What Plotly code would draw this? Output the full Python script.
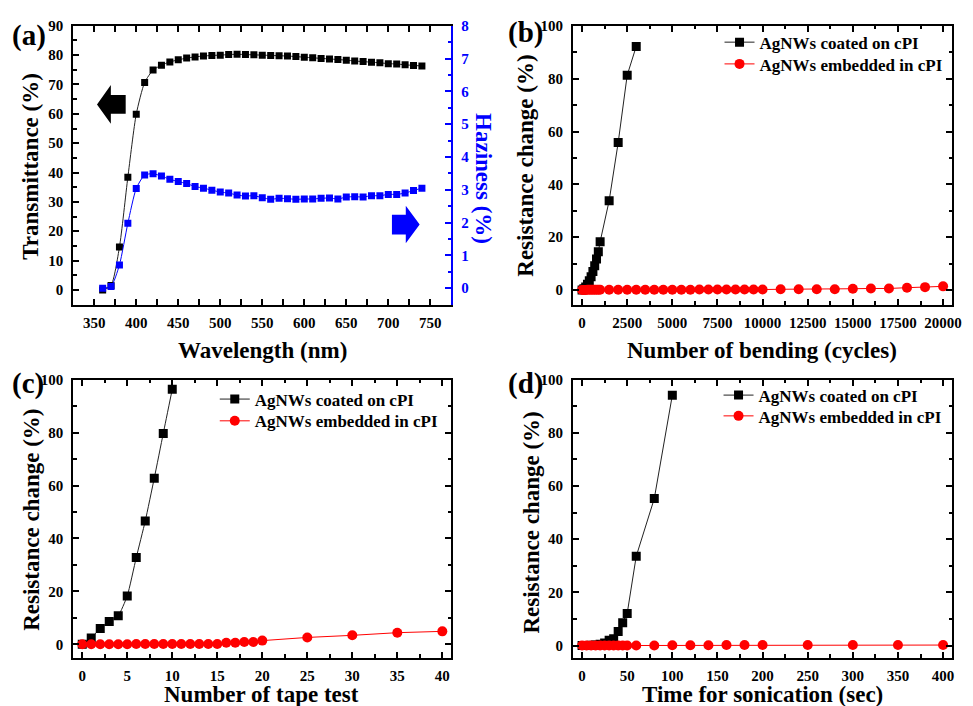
import plotly.graph_objects as go

W, H = 973, 706
SERIF = "Liberation Serif"
BLUE = "#0000FF"
RED = "#FF0000"

# (a) optical properties of the film
wavelength = [360, 370, 380, 390, 400, 410, 420, 430, 440, 450, 460, 470, 480, 490,
              500, 510, 520, 530, 540, 550, 560, 570, 580, 590, 600, 610, 620, 630,
              640, 650, 660, 670, 680, 690, 700, 710, 720, 730, 740]
transmittance = [0.0, 1.5, 14.6, 38.4, 59.9, 70.7, 74.9, 76.6, 77.7, 78.4, 79.0, 79.4,
                 79.7, 79.9, 80.0, 80.2, 80.3, 80.2, 80.1, 80.0, 79.9, 79.8, 79.7, 79.5,
                 79.3, 79.1, 78.9, 78.7, 78.5, 78.3, 78.0, 77.8, 77.6, 77.4, 77.1, 77.0,
                 76.7, 76.5, 76.3]
haziness = [0.0, 0.05, 0.71, 1.98, 3.04, 3.45, 3.49, 3.42, 3.32, 3.25, 3.19, 3.10,
            3.05, 2.99, 2.93, 2.90, 2.84, 2.81, 2.82, 2.76, 2.71, 2.74, 2.73, 2.71,
            2.72, 2.72, 2.74, 2.75, 2.72, 2.78, 2.79, 2.78, 2.82, 2.82, 2.86, 2.86,
            2.90, 2.98, 3.05]

# (b) bending test
bend_coated_x = [0, 100, 200, 300, 400, 500, 600, 700, 800, 900, 1000,
                 1500, 2000, 2500, 3000]
bend_coated_y = [0.0, 0.5, 1.2, 2.2, 3.5, 5.0, 7.0, 9.2, 11.8, 14.5, 18.3,
                 33.8, 55.8, 81.3, 92.2]
bend_embedded_x = [0, 100, 200, 300, 400, 500, 600, 700, 800, 900, 1000,
                   1500, 2000, 2500, 3000, 3500, 4000, 4500, 5000, 5500, 6000,
                   6500, 7000, 7500, 8000, 8500, 9000, 9500, 10000,
                   11000, 12000, 13000, 14000, 15000, 16000, 17000, 18000,
                   19000, 20000]
bend_embedded_y = [0.0, 0.0, 0.0, 0.1, 0.1, 0.1, 0.1, 0.1, 0.1, 0.1, 0.1,
                   0.1, 0.1, 0.1, 0.1, 0.1, 0.1, 0.1, 0.1, 0.1, 0.1,
                   0.2, 0.2, 0.2, 0.2, 0.2, 0.2, 0.2, 0.2,
                   0.3, 0.3, 0.3, 0.3, 0.5, 0.6, 0.6, 0.9, 1.1, 1.4]

# (c) tape test
tape_coated_x = [0, 1, 2, 3, 4, 5, 6, 7, 8, 9, 10]
tape_coated_y = [0.0, 2.4, 6.0, 8.6, 10.8, 18.3, 32.8, 46.6, 62.8, 79.7, 96.4]
tape_embedded_x = [0, 1, 2, 3, 4, 5, 6, 7, 8, 9, 10, 11, 12, 13, 14, 15, 16, 17,
                   18, 19, 20, 25, 30, 35, 40]
tape_embedded_y = [0.0, 0.0, 0.0, 0.0, 0.0, 0.0, 0.1, 0.1, 0.1, 0.1, 0.1, 0.1,
                   0.1, 0.1, 0.1, 0.1, 0.6, 0.6, 0.9, 0.9, 1.4, 2.6, 3.4, 4.4, 4.9]

# (d) sonication test
son_coated_x = [0, 5, 10, 15, 20, 25, 30, 35, 40, 45, 50, 60, 80, 100]
son_coated_y = [0.0, 0.0, 0.1, 0.2, 0.5, 1.0, 2.0, 2.6, 5.3, 8.6, 12.1, 33.6, 55.3, 94.2]
son_embedded_x = [0, 5, 10, 15, 20, 25, 30, 35, 40, 45, 50, 60, 80, 100, 120,
                  140, 160, 180, 200, 250, 300, 350, 400]
son_embedded_y = [0.0, 0.0, 0.0, 0.0, 0.0, 0.0, 0.0, 0.0, 0.0, 0.0, 0.0, 0.0,
                  0.0, 0.1, 0.1, 0.1, 0.2, 0.2, 0.2, 0.2, 0.2, 0.2, 0.2]

legend_labels = ["AgNWs coated on cPI", "AgNWs embedded in cPI"]
panel_labels = ["(a)", "(b)", "(c)", "(d)"]


def fx(px):
    return px / W


def fy(py):
    return 1 - py / H


tick_font = dict(family=SERIF, size=15, color="black", weight="bold")


def frame_axis(rng, dtick, minor_dtick, domain, anchor, mirror="allticks",
               color="black", **kw):
    ax = dict(range=rng, dtick=dtick, domain=domain, anchor=anchor,
              showline=True, linecolor=color, linewidth=2, mirror=mirror,
              ticks="inside", ticklen=6, tickwidth=1.5, tickcolor=color,
              showgrid=False, zeroline=False, tickformat="d",
              tickfont=dict(tick_font, color=color),
              minor=dict(dtick=minor_dtick, ticks="inside", ticklen=3.5,
                         tickwidth=1.5, tickcolor=color, showgrid=False))
    ax.update(kw)
    return ax


fig = go.Figure()

sq_black = dict(symbol="square", color="black")
circ_red = dict(symbol="circle", color=RED)

# (a)
fig.add_trace(go.Scatter(x=wavelength, y=transmittance, mode="lines+markers",
                         line=dict(color="#222222", width=1, shape="spline", smoothing=0.6),
                         marker=dict(sq_black, size=7), showlegend=False,
                         xaxis="x", yaxis="y"))
fig.add_trace(go.Scatter(x=wavelength, y=haziness, mode="lines+markers",
                         line=dict(color=BLUE, width=1, shape="spline", smoothing=0.6),
                         marker=dict(symbol="square", color=BLUE, size=7),
                         showlegend=False, xaxis="x", yaxis="y2"))

# (b), (c), (d): each legend row is its own legend so the rows sit where wanted
panels = [
    ("x2", "y3", ("legend", "legend2"), bend_coated_x, bend_coated_y,
     bend_embedded_x, bend_embedded_y, "linear"),
    ("x3", "y4", ("legend3", "legend4"), tape_coated_x, tape_coated_y,
     tape_embedded_x, tape_embedded_y, "spline"),
    ("x4", "y5", ("legend5", "legend6"), son_coated_x, son_coated_y,
     son_embedded_x, son_embedded_y, "linear"),
]
for xa, ya, (lg1, lg2), cx, cy, ex, ey, shape in panels:
    fig.add_trace(go.Scatter(x=cx, y=cy, mode="lines+markers", name=legend_labels[0],
                             line=dict(color="#222222", width=1, shape=shape, smoothing=0.5),
                             marker=dict(sq_black, size=9), xaxis=xa, yaxis=ya, legend=lg1))
    fig.add_trace(go.Scatter(x=ex, y=ey, mode="lines+markers", name=legend_labels[1],
                             line=dict(color=RED, width=1),
                             marker=dict(circ_red, size=10), xaxis=xa, yaxis=ya, legend=lg2))

top_row = [fy(300), fy(18)]
bot_row = [fy(657), fy(376)]
left_col = [fx(74), fx(456)]
right_col = [fx(579), fx(962)]

legend_style = dict(xanchor="left", yanchor="middle", bgcolor="rgba(0,0,0,0)",
                    font=dict(family=SERIF, size=17, color="black", weight="bold"),
                    tracegroupgap=0, itemwidth=30, borderwidth=0)

fig.update_layout(
    width=W, height=H,
    margin=dict(l=0, r=0, t=0, b=0),
    paper_bgcolor="white", plot_bgcolor="white",
    font=dict(family=SERIF),
    xaxis=frame_axis([325, 775], 50, 25, left_col, "y", ticklabelstandoff=3),
    yaxis=frame_axis([-5, 90], 10, 5, top_row, "x", mirror=False, ticklabelstandoff=5),
    yaxis2=frame_axis([-0.5, 8], 1, 0.5, top_row, "x", mirror=False, color=BLUE,
                      overlaying="y", side="right", ticklabelstandoff=5),
    xaxis2=frame_axis([-500, 20500], 2500, 1250, right_col, "y3", ticklabelstandoff=3),
    yaxis3=frame_axis([-5.5, 100], 20, 10, top_row, "x2", ticklabelstandoff=5),
    xaxis3=frame_axis([-1, 41], 5, 2.5, left_col, "y4", ticklabelstandoff=3),
    yaxis4=frame_axis([-5, 100], 20, 10, bot_row, "x3", ticklabelstandoff=5),
    xaxis4=frame_axis([-10, 410], 50, 25, right_col, "y5", ticklabelstandoff=3),
    yaxis5=frame_axis([-4.5, 100], 20, 10, bot_row, "x4", ticklabelstandoff=5),
    legend=dict(legend_style, x=fx(727), y=fy(35)),
    legend2=dict(legend_style, x=fx(727), y=fy(57)),
    legend3=dict(legend_style, x=fx(217), y=fy(396)),
    legend4=dict(legend_style, x=fx(217), y=fy(418)),
    legend5=dict(legend_style, x=fx(726), y=fy(392)),
    legend6=dict(legend_style, x=fx(726), y=fy(413)),
)

title_font = dict(family=SERIF, size=23, color="black", weight="bold")
annotations = [
    # x-axis titles
    dict(text="Wavelength (nm)", x=fx(265), y=fy(346)),
    dict(text="Number of bending (cycles)", x=fx(770), y=fy(346)),
    dict(text="Number of tape test", x=fx(264), y=fy(694)),
    dict(text="Time for sonication (sec)", x=fx(770), y=fy(694)),
    # y-axis titles
    dict(text="Transmittance (%)", x=fx(31), y=fy(160), textangle=-90),
    dict(text="Resistance change (%)", x=fx(531), y=fy(160), textangle=-90),
    dict(text="Resistance change (%)", x=fx(31), y=fy(518), textangle=-90),
    dict(text="Resistance change (%)", x=fx(537), y=fy(520), textangle=-90),
    dict(text="Haziness (%)", x=fx(489), y=fy(173), textangle=90,
         font=dict(title_font, color=BLUE)),
]
label_pos = [(29, 28), (531, 25), (28, 380), (531, 380)]
for lab, (lx, ly) in zip(panel_labels, label_pos):
    annotations.append(dict(text=lab, x=fx(lx), y=fy(ly),
                            font=dict(family=SERIF, size=29, color="black", weight="bold")))

for a in annotations:
    a.setdefault("font", title_font)
    a.update(xref="paper", yref="paper", showarrow=False, xanchor="center", yanchor="middle")
fig.update_layout(annotations=annotations)


def arrow_path(pts):
    return "M " + " L ".join(f"{fx(x):.5f},{fy(y):.5f}" for x, y in pts) + " Z"


# direction arrows pointing at each axis in (a)
left_arrow = [(98, 97.5), (112, 78), (112, 88), (127, 88), (127, 107), (112, 107), (112, 117)]
right_arrow = [(424, 219), (410, 200), (410, 209), (396, 209), (396, 229), (410, 229), (410, 238)]
fig.add_shape(type="path", path=arrow_path(left_arrow), xref="paper", yref="paper",
              fillcolor="black", line=dict(width=0))
fig.add_shape(type="path", path=arrow_path(right_arrow), xref="paper", yref="paper",
              fillcolor=BLUE, line=dict(width=0))

fig.write_html("out.html")
